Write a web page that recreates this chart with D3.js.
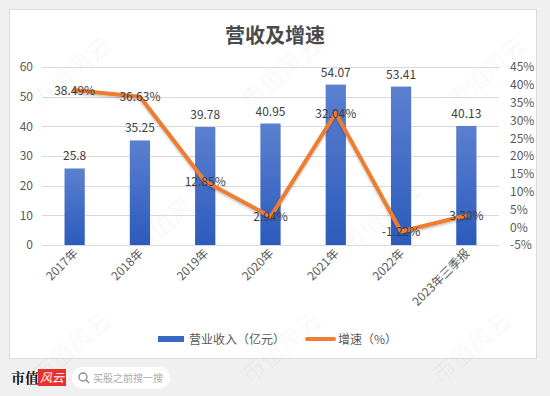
<!DOCTYPE html>
<html>
<head>
<meta charset="utf-8">
<script src="https://cdn.jsdelivr.net/npm/d3@7"></script>
<style>
  html, body { margin: 0; padding: 0; background: #f0f0f0; }
  svg { display: block; font-family: "Noto Sans CJK SC", "Noto Sans", sans-serif; }
</style>
</head>
<body>
<div id="chart"></div>
<script>
var years = ["2017年", "2018年", "2019年", "2020年", "2021年", "2022年", "2023年三季报"]
var revenue = [25.8, 35.25, 39.78, 40.95, 54.07, 53.41, 40.13]
var growth = [38.49, 36.63, 12.85, 2.94, 32.04, -1.22, 3.30]
var leftTicks = [0, 10, 20, 30, 40, 50, 60]
var rightTicks = [-5, 0, 5, 10, 15, 20, 25, 30, 35, 40, 45]

var W = 550, H = 396
var svg = d3.select("#chart").append("svg")
    .attr("width", W)
    .attr("height", H)

// background + white card
svg.append("rect").attr("width", W).attr("height", H).attr("fill", "#f0f0f0")
svg.append("rect")
    .attr("x", 9.5).attr("y", 9.5)
    .attr("width", 527).attr("height", 349)
    .attr("fill", "#fff")
    .attr("stroke", "#dcdcdc")

var defs = svg.append("defs")
var grad = defs.append("linearGradient")
    .attr("id", "barGrad")
    .attr("x1", 0).attr("y1", 0).attr("x2", 0).attr("y2", 1)
grad.append("stop").attr("offset", "0%").attr("stop-color", "#5b80cf")
grad.append("stop").attr("offset", "100%").attr("stop-color", "#2c5bbd")

var shadow = defs.append("filter").attr("id", "lineShadow")
    .attr("x", "-10%").attr("y", "-10%").attr("width", "120%").attr("height", "130%")
shadow.append("feDropShadow")
    .attr("dx", 0).attr("dy", 1.5).attr("stdDeviation", 1.2)
    .attr("flood-color", "#000").attr("flood-opacity", 0.25)

// scales
var x = d3.scaleBand()
    .domain(years)
    .range([42, 499])
    .paddingInner(0.69)
    .paddingOuter(0.345)

var yL = d3.scaleLinear().domain([0, 60]).range([245, 67])
var yR = d3.scaleLinear().domain([-5, 45]).range([245, 67])

// watermarks (drawn first, very faint)
var wmX = [40, 250, 455, 140, 350, 40, 250, 440]
var wmY = [110, 110, 110, 255, 255, 385, 385, 385]
svg.append("g").selectAll("text")
    .data(wmX)
    .join("text")
    .attr("transform", function (d, i) { return "translate(" + d + "," + wmY[i] + ") rotate(-40)" })
    .attr("font-size", 24)
    .attr("fill", "#000")
    .attr("fill-opacity", 0.035)
    .text("市值风云")

// title
svg.append("text")
    .attr("x", 275).attr("y", 43)
    .attr("text-anchor", "middle")
    .attr("font-size", 20)
    .attr("font-weight", "bold")
    .attr("fill", "#4a4a4a")
    .text("营收及增速")

// gridlines
svg.append("g").selectAll("line")
    .data(leftTicks)
    .join("line")
    .attr("x1", 42).attr("x2", 499)
    .attr("y1", function (d) { return Math.round(yL(d)) + 0.5 })
    .attr("y2", function (d) { return Math.round(yL(d)) + 0.5 })
    .attr("stroke", "#d9d9d9")
    .attr("stroke-width", 1)

// left axis
var axisL = svg.append("g")
    .attr("transform", "translate(33,0)")
    .call(d3.axisLeft(yL).tickValues(leftTicks).tickSize(0).tickPadding(0))
axisL.select(".domain").remove()
axisL.selectAll("text")
    .attr("font-size", 12)
    .attr("fill", "#595959")
    .attr("font-family", "'Noto Sans CJK SC', sans-serif")

// right axis
var axisR = svg.append("g")
    .attr("transform", "translate(510,0)")
    .call(d3.axisRight(yR).tickValues(rightTicks).tickSize(0).tickPadding(0)
        .tickFormat(function (d) { return d + "%" }))
axisR.select(".domain").remove()
axisR.selectAll("text")
    .attr("font-size", 12)
    .attr("fill", "#595959")
    .attr("font-family", "'Noto Sans CJK SC', sans-serif")

// bars
svg.append("g").selectAll("rect")
    .data(revenue)
    .join("rect")
    .attr("x", function (d, i) { return x(years[i]) })
    .attr("y", function (d) { return yL(d) })
    .attr("width", x.bandwidth())
    .attr("height", function (d) { return yL(0) - yL(d) })
    .attr("fill", "url(#barGrad)")

// bar labels
svg.append("g").selectAll("text")
    .data(revenue)
    .join("text")
    .attr("x", function (d, i) { return x(years[i]) + x.bandwidth() / 2 })
    .attr("y", function (d) { return yL(d) - 8 })
    .attr("text-anchor", "middle")
    .attr("font-size", 12)
    .attr("fill", "#404040")
    .text(function (d) { return d })

// x labels
svg.append("g").selectAll("text")
    .data(years)
    .join("text")
    .attr("transform", function (d) {
        return "translate(" + (x(d) + x.bandwidth() / 2 + 4) + ",254) rotate(-45)"
    })
    .attr("text-anchor", "end")
    .attr("font-size", 12)
    .attr("fill", "#595959")
    .text(function (d) { return d })

// growth line
var line = d3.line()
    .x(function (d, i) { return x(years[i]) + x.bandwidth() / 2 })
    .y(function (d) { return yR(d) })

svg.append("path")
    .datum(growth)
    .attr("d", line)
    .attr("fill", "none")
    .attr("stroke", "#ed7d31")
    .attr("stroke-width", 4)
    .attr("stroke-linejoin", "round")
    .attr("stroke-linecap", "round")
    .attr("filter", "url(#lineShadow)")

// growth labels (centered on point)
svg.append("g").selectAll("text")
    .data(growth)
    .join("text")
    .attr("x", function (d, i) { return x(years[i]) + x.bandwidth() / 2 })
    .attr("y", function (d) { return yR(d) + 4.5 })
    .attr("text-anchor", "middle")
    .attr("font-size", 12)
    .attr("fill", "#404040")
    .text(function (d) { return d.toFixed(2) + "%" })

// legend
svg.append("rect")
    .attr("x", 158).attr("y", 336).attr("width", 26).attr("height", 6)
    .attr("fill", "#3a66c4")
svg.append("text")
    .attr("x", 189).attr("y", 343.5)
    .attr("font-size", 12).attr("fill", "#595959")
    .text("营业收入（亿元）")
svg.append("line")
    .attr("x1", 307).attr("x2", 334).attr("y1", 339).attr("y2", 339)
    .attr("stroke", "#ed7d31").attr("stroke-width", 4).attr("stroke-linecap", "round")
svg.append("text")
    .attr("x", 338).attr("y", 343.5)
    .attr("font-size", 12).attr("fill", "#595959")
    .text("增速（%）")

// footer logo
svg.append("text")
    .attr("x", 11).attr("y", 383)
    .attr("font-size", 14).attr("font-weight", "bold")
    .attr("font-family", "'Noto Serif CJK SC', 'Noto Sans CJK SC', serif")
    .attr("fill", "#111")
    .text("市值")
svg.append("rect")
    .attr("x", 38).attr("y", 369).attr("width", 28).attr("height", 17)
    .attr("fill", "#e8312f")
svg.append("text")
    .attr("x", 52).attr("y", 382)
    .attr("text-anchor", "middle")
    .attr("font-size", 12).attr("font-style", "italic")
    .attr("fill", "#fff")
    .text("风云")

// search pill
svg.append("rect")
    .attr("x", 72).attr("y", 367).attr("width", 98).attr("height", 22).attr("rx", 11)
    .attr("fill", "#fff")
svg.append("circle")
    .attr("cx", 83).attr("cy", 377).attr("r", 4)
    .attr("fill", "none").attr("stroke", "#888").attr("stroke-width", 1.3)
svg.append("line")
    .attr("x1", 86).attr("y1", 380).attr("x2", 89).attr("y2", 383)
    .attr("stroke", "#888").attr("stroke-width", 1.4)
svg.append("text")
    .attr("x", 93).attr("y", 382)
    .attr("font-size", 10).attr("fill", "#aaa")
    .text("买股之前搜一搜")
</script>
</body>
</html>
